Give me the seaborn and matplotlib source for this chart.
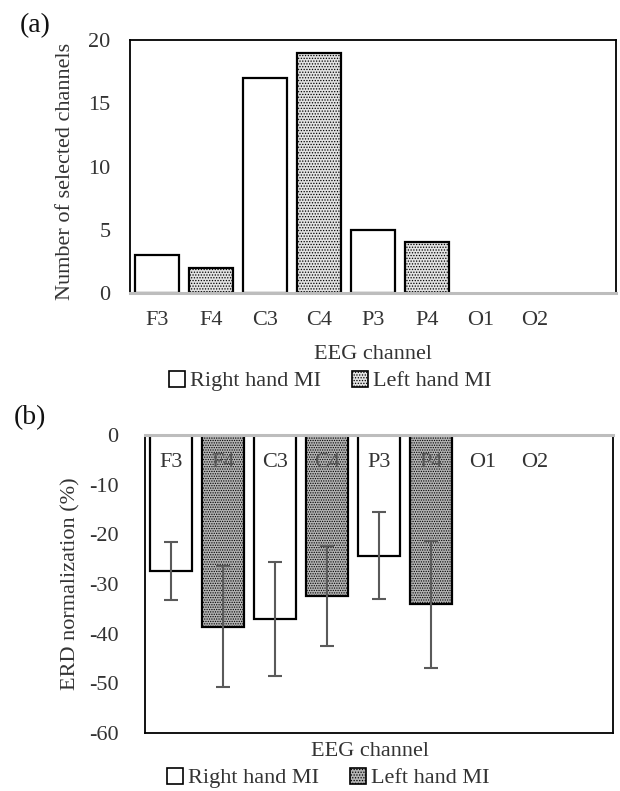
import numpy as np
import pandas as pd
import matplotlib
matplotlib.use("Agg")
import matplotlib.pyplot as plt
import seaborn as sns
from matplotlib.patches import Patch

# ---------------- data ----------------
channels = ["F3", "F4", "C3", "C4", "P3", "P4", "O1", "O2"]
hands = ["Right hand MI", "Left hand MI", "Right hand MI", "Left hand MI",
         "Right hand MI", "Left hand MI", "Right hand MI", "Left hand MI"]
n_selected = [3, 2, 17, 19, 5, 4, 0, 0]
erd_mean = [-27.4, -38.6, -37.1, -32.4, -24.3, -34.1, np.nan, np.nan]
erd_err = [5.8, 12.2, 11.5, 10.0, 8.8, 12.8, np.nan, np.nan]
yticks_a = [0, 5, 10, 15, 20]
yticks_b = [0, -10, -20, -30, -40, -50, -60]
hue_order = ["Right hand MI", "Left hand MI"]

sns.set_theme(style="white")
plt.rcParams['font.family'] = ['Liberation Serif', 'DejaVu Serif']
plt.rcParams['hatch.color'] = '#7a7a7a'
plt.rcParams['hatch.linewidth'] = 0.6
txt_color = '#333333'
FS = 16

fig = plt.figure(figsize=(6.2, 7.91), dpi=100)
axA = fig.add_axes([130/620, 1-293/791, 486/620, 253/791])
axB = fig.add_axes([145/620, 1-733/791, 468/620, 298/791])

# ---------------- panel (a) ----------------
dfA = pd.DataFrame({"channel": channels, "hand": hands, "value": n_selected})
sns.barplot(data=dfA, x="channel", y="value", hue="hand", order=channels,
            hue_order=hue_order, dodge=False, width=0.8,
            palette={"Right hand MI": "white", "Left hand MI": "#e2e2e2"},
            saturation=1, edgecolor="black", linewidth=1.6, ax=axA, legend=False)
for ci, cont in enumerate(axA.containers):
    for p in cont.patches:
        if p.get_height() == 0:
            p.set_visible(False)
        elif ci == 1:
            p.set_hatch('......')
axA.set_xlim(-0.5, 8.5)
axA.set_ylim(0, 20)
axA.set_yticks(yticks_a)
axA.set_yticklabels([str(v) for v in yticks_a])
axA.set_xticks(range(len(channels)))
axA.set_xticklabels(channels)
axA.tick_params(axis='both', length=0, labelsize=FS, colors=txt_color)
axA.tick_params(axis='y', pad=14)
axA.tick_params(axis='x', pad=13)
axA.set_xlabel("EEG channel", fontsize=FS, color=txt_color)
axA.set_ylabel("Number of selected channels", fontsize=FS, color=txt_color)
axA.xaxis.set_label_coords(0.50, -0.205)
axA.yaxis.set_label_coords(-0.113, 0.48)
for s in ['left', 'top', 'right']:
    axA.spines[s].set_color('black')
    axA.spines[s].set_linewidth(1.3)
axA.spines['bottom'].set_color('#bdbdbd')
axA.spines['bottom'].set_linewidth(2.2)

# ---------------- panel (b) ----------------
dfB = pd.DataFrame({"channel": channels, "hand": hands, "value": erd_mean})
sns.barplot(data=dfB, x="channel", y="value", hue="hand", order=channels,
            hue_order=hue_order, dodge=False, width=0.8,
            palette={"Right hand MI": "white", "Left hand MI": "#b4b4b4"},
            saturation=1, edgecolor="black", linewidth=1.6, ax=axB, legend=False,
            errorbar=None)
for ci, cont in enumerate(axB.containers):
    for p in cont.patches:
        if ci == 1:
            p.set_hatch('.......')
axB.errorbar(x=np.arange(len(channels)), y=erd_mean, yerr=erd_err, fmt='none',
             ecolor='#5a5a5a', elinewidth=1.5, capsize=5, capthick=1.5, zorder=5)
for i, ch in enumerate(channels):
    axB.text(i, -5.6, ch, ha='center', va='center', fontsize=FS,
             color=txt_color if hands[i] == "Right hand MI" or i >= 6 else '#555555',
             zorder=6)
axB.set_xlim(-0.5, 8.5)
axB.set_ylim(-60, 0)
axB.set_yticks(yticks_b)
axB.set_yticklabels([str(v) for v in yticks_b])
axB.set_xticks([])
axB.tick_params(axis='both', length=0, labelsize=FS, colors=txt_color)
axB.tick_params(axis='y', pad=19)
axB.set_xlabel("EEG channel", fontsize=FS, color=txt_color)
axB.set_ylabel("ERD normalization (%)", fontsize=FS, color=txt_color)
axB.xaxis.set_label_coords(0.48, -0.03)
axB.yaxis.set_label_coords(-0.137, 0.5)
for s in ['left', 'bottom', 'right']:
    axB.spines[s].set_color('black')
    axB.spines[s].set_linewidth(1.3)
axB.spines['top'].set_color('#bdbdbd')
axB.spines['top'].set_linewidth(2.2)

# ---------------- legends ----------------
def add_legend(y_center, x_center, left_face):
    handles = [Patch(facecolor='white', edgecolor='black', linewidth=1.2, label=hue_order[0]),
               Patch(facecolor=left_face, edgecolor='black', linewidth=1.2,
                     hatch='......', label=hue_order[1])]
    fig.legend(handles=handles, loc='center', bbox_to_anchor=(x_center/620, 1-y_center/791),
               ncol=2, frameon=False, fontsize=FS, handlelength=0.75, handleheight=0.75,
               handletextpad=0.2, columnspacing=1.4, labelcolor=txt_color)

add_legend(381, 330, '#e2e2e2')
add_legend(778, 328, '#b4b4b4')

fig.text(35/620, 1-26/791, "(a)", fontsize=20, ha='center', va='center', color='#111111')
fig.text(30/620, 1-418/791, "(b)", fontsize=20, ha='center', va='center', color='#111111')

fig.savefig("out.png", dpi=100, facecolor='white')
